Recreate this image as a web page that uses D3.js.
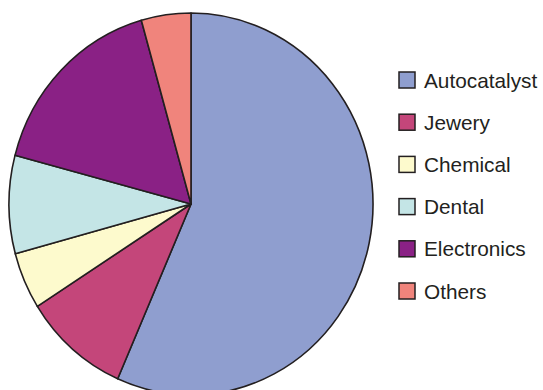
<!DOCTYPE html>
<html>
<head>
<meta charset="utf-8">
<script src="https://cdn.jsdelivr.net/npm/d3@7"></script>
<style>
  html, body { margin: 0; padding: 0; background: #fff; }
  svg { display: block; }
</style>
</head>
<body>
<svg id="chart" width="543" height="390"></svg>
<script>
const categories = ["Autocatalyst", "Jewery", "Chemical", "Dental", "Electronics", "Others"];
const values = [56.6, 9.4, 4.8, 8.3, 16.5, 4.4];
const colors = ["#8f9ecf", "#c4467a", "#fdfacd", "#c4e5e6", "#8a2185", "#f0847c"];

const svg = d3.select("#chart");
const cx = 191, cy = 204, rx = 182, ry = 191;

const pie = d3.pie().sort(null).value(d => d.v);
const arcs = pie(categories.map((c, i) => ({ c, v: values[i] })));
const arc = d3.arc().innerRadius(0).outerRadius(ry);
const color = d3.scaleOrdinal().domain(categories).range(colors);

const g = svg.append("g")
  .attr("transform", `translate(${cx},${cy}) scale(${rx / ry},1)`);

g.selectAll("path")
  .data(arcs)
  .join("path")
  .attr("d", arc)
  .attr("fill", d => color(d.data.c))
  .attr("stroke", "#231f20")
  .attr("stroke-width", 1.6)
  .attr("stroke-linejoin", "round")
  .attr("vector-effect", "non-scaling-stroke");

const legend = svg.append("g").attr("transform", "translate(399,80)");
const rowY = d3.scalePoint().domain(categories).range([0, 211]);

const rows = legend.selectAll("g")
  .data(categories)
  .join("g")
  .attr("transform", d => `translate(0,${rowY(d)})`);

rows.append("rect")
  .attr("x", 0).attr("y", -8)
  .attr("width", 16).attr("height", 16)
  .attr("fill", d => color(d))
  .attr("stroke", "#231f20")
  .attr("stroke-width", 1.5);

rows.append("text")
  .attr("x", 25).attr("y", 0)
  .attr("dy", "0.36em")
  .attr("font-family", "'Liberation Sans', Arial, Helvetica, sans-serif")
  .attr("font-size", 20.8)
  .attr("fill", "#231f20")
  .text(d => d);
</script>
</body>
</html>
